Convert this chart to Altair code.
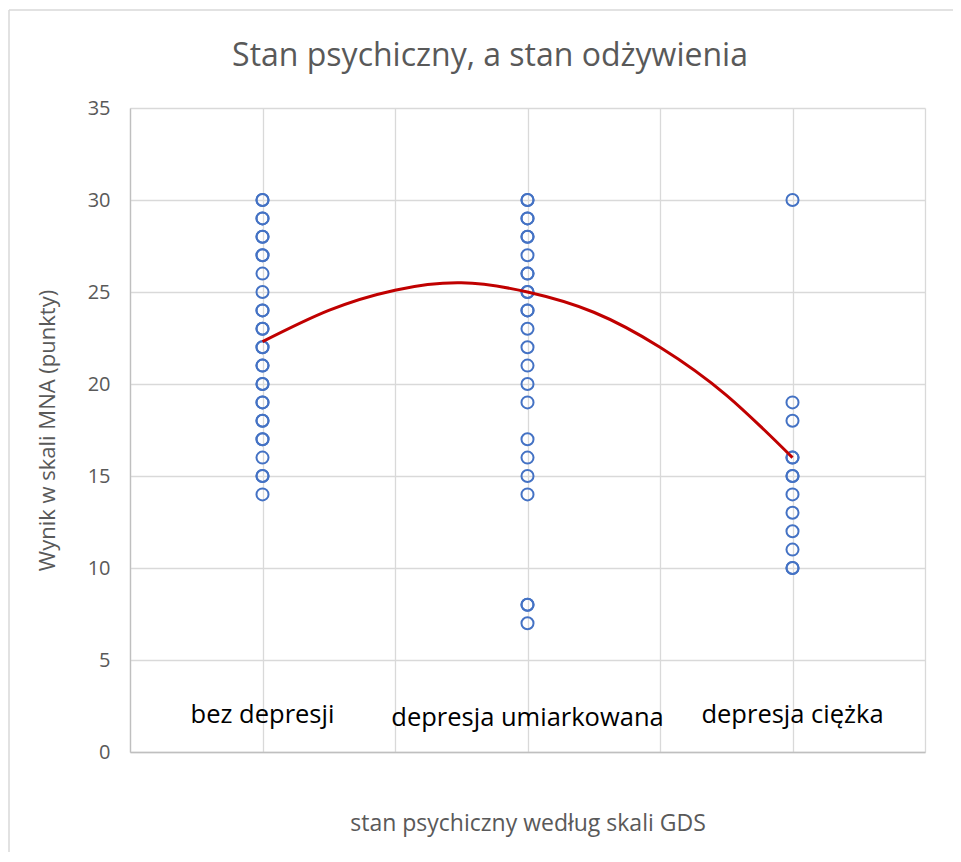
import altair as alt
import pandas as pd

# ---- data ----
g1_scores = [14, 15, 15, 16, 17, 17, 18, 18, 19, 19, 20, 20, 21, 21, 22, 22, 23, 23,
             24, 24, 25, 26, 27, 27, 28, 28, 29, 29, 30, 30]
g2_scores = [7, 8, 8, 14, 15, 16, 17, 19, 20, 21, 22, 23, 24, 24, 25, 25, 26, 26,
             27, 28, 28, 29, 29, 30, 30]
g3_scores = [10, 10, 11, 12, 13, 14, 15, 15, 16, 16, 18, 19, 30]

trend_x = [1.0, 1.25, 1.5, 1.75, 2.0, 2.25, 2.5, 2.75, 3.0]
trend_y = [22.3, 24.0, 25.1, 25.5, 25.0, 23.9, 22.0, 19.4, 16.0]

cat_labels = ["bez depresji", "depresja umiarkowana", "depresja ciężka"]
cat_x = [1, 2, 3]
cat_label_y = [1.6, 1.4, 1.6]

title_text = "Stan psychiczny, a stan odżywienia"

y_ticks = [0, 5, 10, 15, 20, 25, 30, 35]
x_grid = [0.5, 1, 1.5, 2, 2.5, 3, 3.5]

points = pd.DataFrame({
    "x": [1] * len(g1_scores) + [2] * len(g2_scores) + [3] * len(g3_scores),
    "y": g1_scores + g2_scores + g3_scores,
})
trend = pd.DataFrame({"x": trend_x, "y": trend_y})
labels = pd.DataFrame({"x": cat_x, "y": cat_label_y, "t": cat_labels})

FONT = "Open Sans"
GREY = "#595959"

xscale = alt.Scale(domain=[0.5, 3.5], nice=False, zero=False)
yscale = alt.Scale(domain=[0, 35], nice=False)

xaxis = alt.Axis(values=x_grid, labels=False, ticks=False, grid=True,
                 title="stan psychiczny według skali GDS",
                 titleFont=FONT, titleFontSize=23, titleColor=GREY, titleFontWeight="normal",
                 titleY=71, titleBaseline="middle")
yaxis = alt.Axis(values=y_ticks, tickSize=0, labelPadding=20, grid=True,
                 labelFont=FONT, labelFontSize=20, labelColor=GREY,
                 title="Wynik w skali MNA (punkty)",
                 titleFont=FONT, titleFontSize=22, titleColor=GREY, titleFontWeight="normal",
                 titleX=-83, titleY=322, titleAngle=-90, titleAlign="center",
                 titleBaseline="middle")

pts = alt.Chart(points).mark_point(
    shape="circle", filled=False, size=145, stroke="#4472C4", strokeWidth=2, opacity=1
).encode(
    x=alt.X("x:Q", scale=xscale, axis=xaxis),
    y=alt.Y("y:Q", scale=yscale, axis=yaxis),
)

line = alt.Chart(trend).mark_line(
    color="#C00000", strokeWidth=3, interpolate="natural"
).encode(x="x:Q", y="y:Q")

txt = alt.Chart(labels).mark_text(
    font=FONT, fontSize=25.5, color="black", baseline="alphabetic", align="center"
).encode(x="x:Q", y="y:Q", text="t:N")

frame = pd.DataFrame({"a": [0]})
top_border = alt.Chart(frame).mark_rule(color="#d9d9d9", strokeWidth=1.5).encode(
    x=alt.value(-121), x2=alt.value(823), y=alt.value(-98))
left_border = alt.Chart(frame).mark_rule(color="#d9d9d9", strokeWidth=1.5).encode(
    x=alt.value(-121), y=alt.value(-98), y2=alt.value(752))

title_df = pd.DataFrame({"t": [title_text]})
title = alt.Chart(title_df).mark_text(
    font=FONT, fontSize=32, color=GREY, align="center", baseline="middle"
).encode(x=alt.value(360), y=alt.value(-52), text="t:N")

chart = alt.layer(top_border, left_border, pts, line, txt, title).properties(
    width=795, height=644,
    padding={"left": 122, "top": 100, "right": 28, "bottom": 100},
    autosize=alt.AutoSizeParams(type="none"),
).configure_view(stroke=None).configure_axis(
    gridColor="#d9d9d9", gridWidth=1.3, domainColor="#bfbfbf", domainWidth=1.3
)

chart.save("out.html", embed_options={"renderer": "svg", "actions": False})
